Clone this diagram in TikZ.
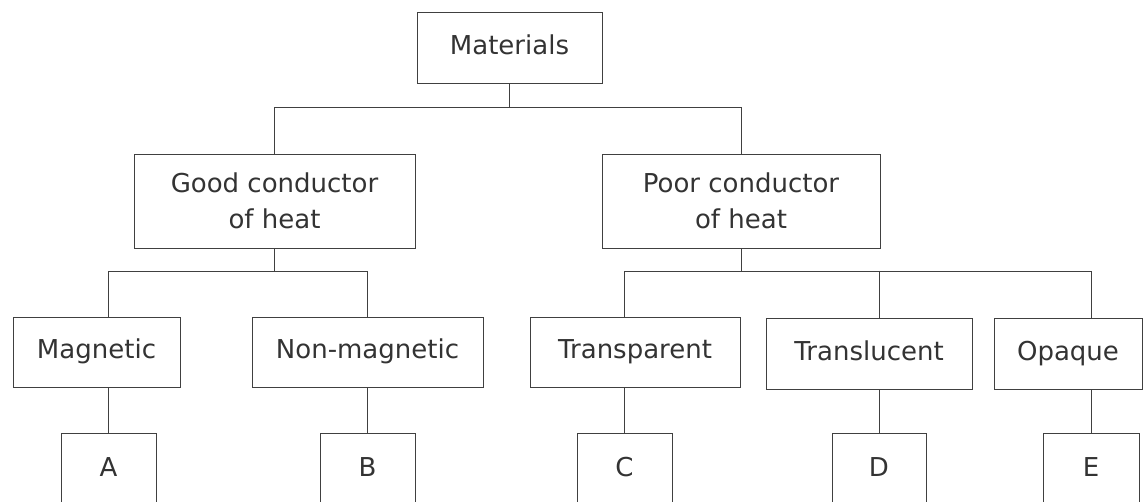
\documentclass[tikz,border=0pt]{standalone}
\usepackage{fontspec}
\setmainfont{DejaVu Sans}
\usepackage{tikz}
\usetikzlibrary{positioning}

\begin{document}
\begin{tikzpicture}[x=1pt, y=-1pt,
  box/.style={draw=black!75, line width=0.8pt, rectangle, inner sep=0pt, align=center,
    text=black!80, font=\fontsize{26}{36}\selectfont},
  onerow/.style={box, text height=20pt, text depth=7pt},
  link/.style={draw=black!75, line width=0.8pt}]
  \useasboundingbox (0,0) rectangle (1146,502);
  \clip (0,0) rectangle (1146,502);
  \coordinate (bus1) at (0,107);
  \coordinate (bus2) at (0,271);
  % top
  \node[onerow, minimum width=185pt, minimum height=71pt] (mat) at (509.5,48) {Materials};
  \node[box, minimum width=281pt, minimum height=94pt] (good) at (274.5,201) {Good conductor\\of heat};
  \node[box, minimum width=278pt, minimum height=94pt] (poor) at (741,201) {Poor conductor\\of heat};
  % middle row
  \node[onerow, minimum width=167pt, minimum height=70pt] (mag) at (96.5,352) {Magnetic};
  \node[onerow, minimum width=231pt, minimum height=70pt] (nonmag) at (367.5,352) {Non-magnetic};
  \node[onerow, minimum width=210pt, minimum height=70pt] (transp) at (635,352) {Transparent};
  \node[onerow, minimum width=206pt, minimum height=71pt] (transl) at (869,354) {Translucent};
  \node[onerow, minimum width=148pt, minimum height=71pt] (opaque) at (1068,354) {Opaque};
  % bottom row
  \node[onerow, minimum width=95pt, minimum height=74pt] (A) at (108.5,470) {A};
  \node[onerow, minimum width=95pt, minimum height=74pt] (B) at (367.5,470) {B};
  \node[onerow, minimum width=95pt, minimum height=74pt] (C) at (624.5,470) {C};
  \node[onerow, minimum width=94pt, minimum height=74pt] (D) at (879,470) {D};
  \node[onerow, minimum width=96pt, minimum height=74pt] (E) at (1091,470) {E};
  % connectors
  \draw[link] (mat.south) |- (good.north |- bus1) -- (good.north);
  \draw[link] (mat.south) |- (poor.north |- bus1) -- (poor.north);
  \draw[link] (good.south) |- (A.north |- bus2) -- (A.north |- mag.north);
  \draw[link] (good.south) |- (B.north |- bus2) -- (B.north |- nonmag.north);
  \draw[link] (poor.south) |- (C.north |- bus2) -- (C.north |- transp.north);
  \draw[link] (poor.south) |- (E.north |- bus2) -- (E.north |- opaque.north);
  \draw[link] (D.north |- bus2) -- (D.north |- transl.north);
  \draw[link] (A.north |- mag.south) -- (A.north);
  \draw[link] (B.north |- nonmag.south) -- (B.north);
  \draw[link] (C.north |- transp.south) -- (C.north);
  \draw[link] (D.north |- transl.south) -- (D.north);
  \draw[link] (E.north |- opaque.south) -- (E.north);
\end{tikzpicture}
\end{document}
